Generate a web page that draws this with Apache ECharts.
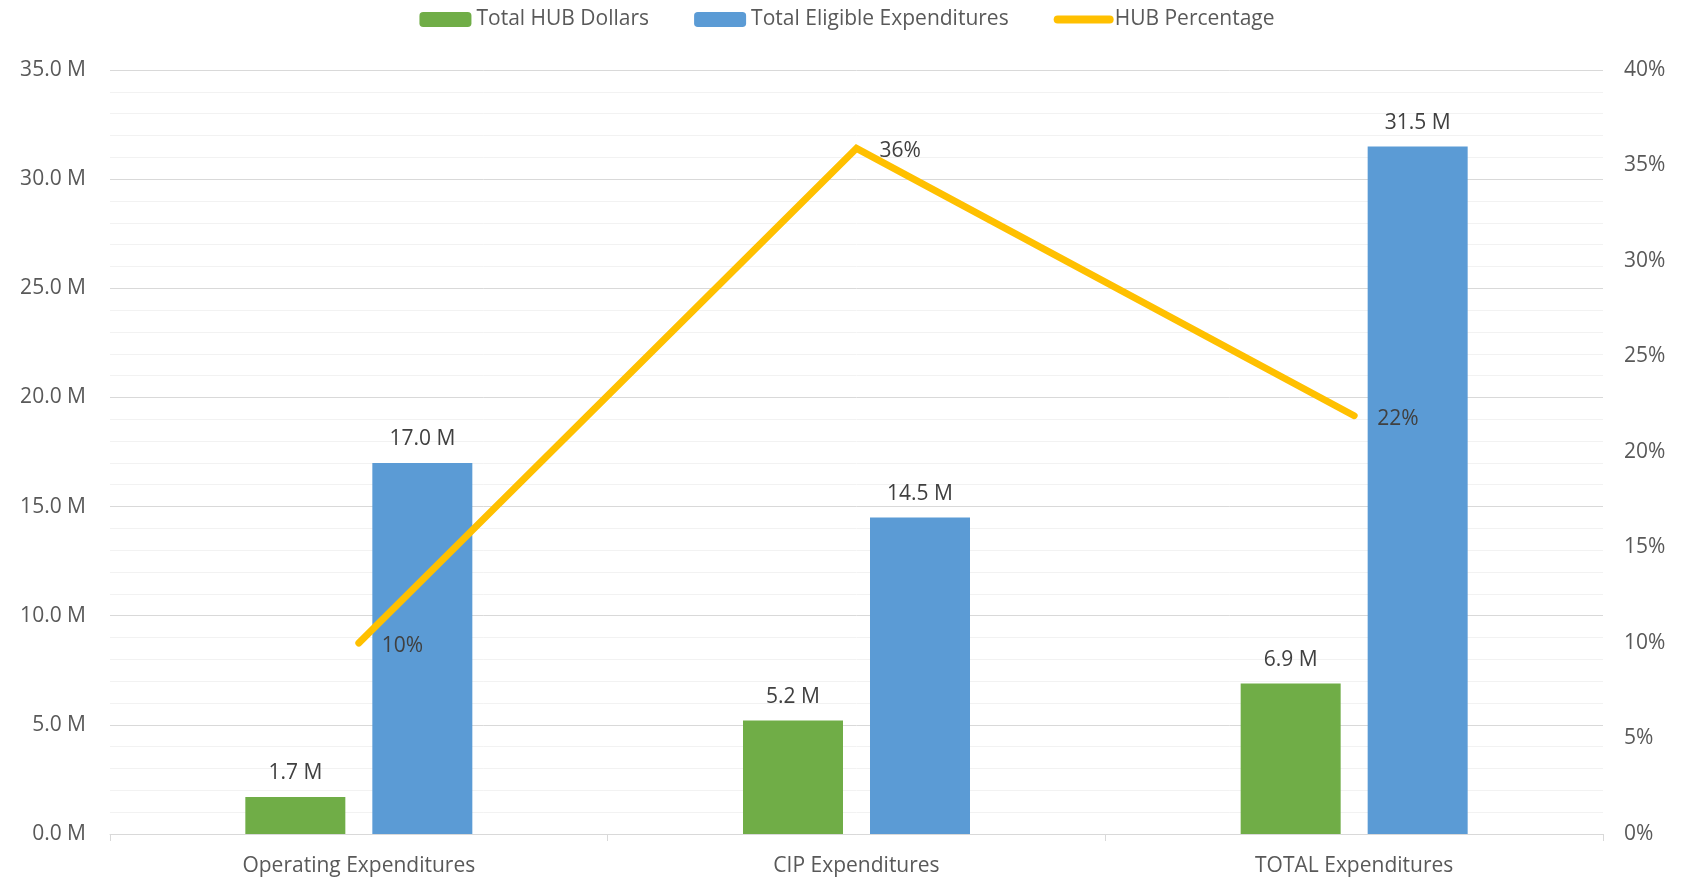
<!DOCTYPE html>
<html>
<head>
<meta charset="utf-8">
<script src="https://cdn.jsdelivr.net/npm/echarts@6/dist/echarts.min.js"></script>
<style>
html,body{margin:0;padding:0;background:#fff;}
#chart{width:1694px;height:881px;}
</style>
</head>
<body>
<div id="chart"></div>
<script>
const categories = ['Operating Expenditures', 'CIP Expenditures', 'TOTAL Expenditures'];
const hubDollars = [1.7, 5.2, 6.9];            // millions
const eligibleExpenditures = [17.0, 14.5, 31.5]; // millions
const hubPercentage = [0.100, 0.359, 0.219];
const FONT = 'Open Sans';
const FS = 21;

const chart = echarts.init(document.getElementById('chart'));
chart.setOption({
  backgroundColor: '#ffffff',
  animation: false,
  textStyle: { fontFamily: FONT },
  legend: {
    top: 4,
    left: 'center',
    itemWidth: 52,
    itemHeight: 15,
    itemGap: 45,
    textStyle: { color: '#595959', fontSize: FS, fontFamily: FONT },
    data: [
      { name: 'Total HUB Dollars' },
      { name: 'Total Eligible Expenditures' },
      { name: 'HUB Percentage', lineStyle: { width: 8, cap: 'round', color: '#FFC000' } }
    ]
  },
  grid: { left: 110, right: 91, top: 70, bottom: 47, containLabel: false },
  xAxis: {
    type: 'category',
    data: categories,
    boundaryGap: true,
    axisLine: { show: true, lineStyle: { color: '#D9D9D9', width: 1 } },
    axisTick: { show: true, length: 7, lineStyle: { color: '#D9D9D9' } },
    axisLabel: { color: '#595959', fontSize: FS, fontFamily: FONT, margin: 22 },
    splitLine: { show: false }
  },
  yAxis: [
    {
      type: 'value',
      min: 0, max: 35, interval: 5,
      axisLine: { show: false },
      axisTick: { show: false },
      axisLabel: { color: '#595959', fontSize: FS, fontFamily: FONT, margin: 24, padding: [4, 0, 0, 0],
        formatter: v => v.toFixed(1) + ' M' },
      splitLine: { show: true, lineStyle: { color: '#D9D9D9', width: 1 } },
      minorTick: { show: false, splitNumber: 5 },
      minorSplitLine: { show: true, lineStyle: { color: '#F2F2F2', width: 1 } }
    },
    {
      type: 'value',
      min: 0, max: 0.4, interval: 0.05,
      axisLine: { show: false },
      axisTick: { show: false },
      axisLabel: { color: '#595959', fontSize: FS, fontFamily: FONT, margin: 21, padding: [4, 0, 0, 0],
        formatter: v => Math.round(v * 100) + '%' },
      splitLine: { show: false }
    }
  ],
  series: [
    {
      name: 'Total HUB Dollars',
      type: 'bar',
      data: hubDollars,
      barWidth: 100,
      barGap: '27%',
      itemStyle: { color: '#70AD47' },
      label: { show: true, position: 'top', distance: 13, color: '#404040', fontSize: FS, fontFamily: FONT,
        formatter: p => p.value.toFixed(1) + ' M' }
    },
    {
      name: 'Total Eligible Expenditures',
      type: 'bar',
      data: eligibleExpenditures,
      barWidth: 100,
      barGap: '27%',
      itemStyle: { color: '#5B9BD5' },
      label: { show: true, position: 'top', distance: 13, color: '#404040', fontSize: FS, fontFamily: FONT,
        formatter: p => p.value.toFixed(1) + ' M' }
    },
    {
      name: 'HUB Percentage',
      type: 'line',
      yAxisIndex: 1,
      data: hubPercentage,
      symbol: 'circle',
      symbolSize: 2,
      showSymbol: true,
      lineStyle: { color: '#FFC000', width: 7, cap: 'round', join: 'miter' },
      itemStyle: { color: 'rgba(255,192,0,0)' },
      label: { show: true, position: 'right', distance: 22, offset: [0, 3], color: '#404040', fontSize: FS, fontFamily: FONT,
        formatter: p => Math.round(p.value * 100) + '%' },
      emphasis: { disabled: true },
      z: 5
    }
  ]
});
</script>
</body>
</html>
